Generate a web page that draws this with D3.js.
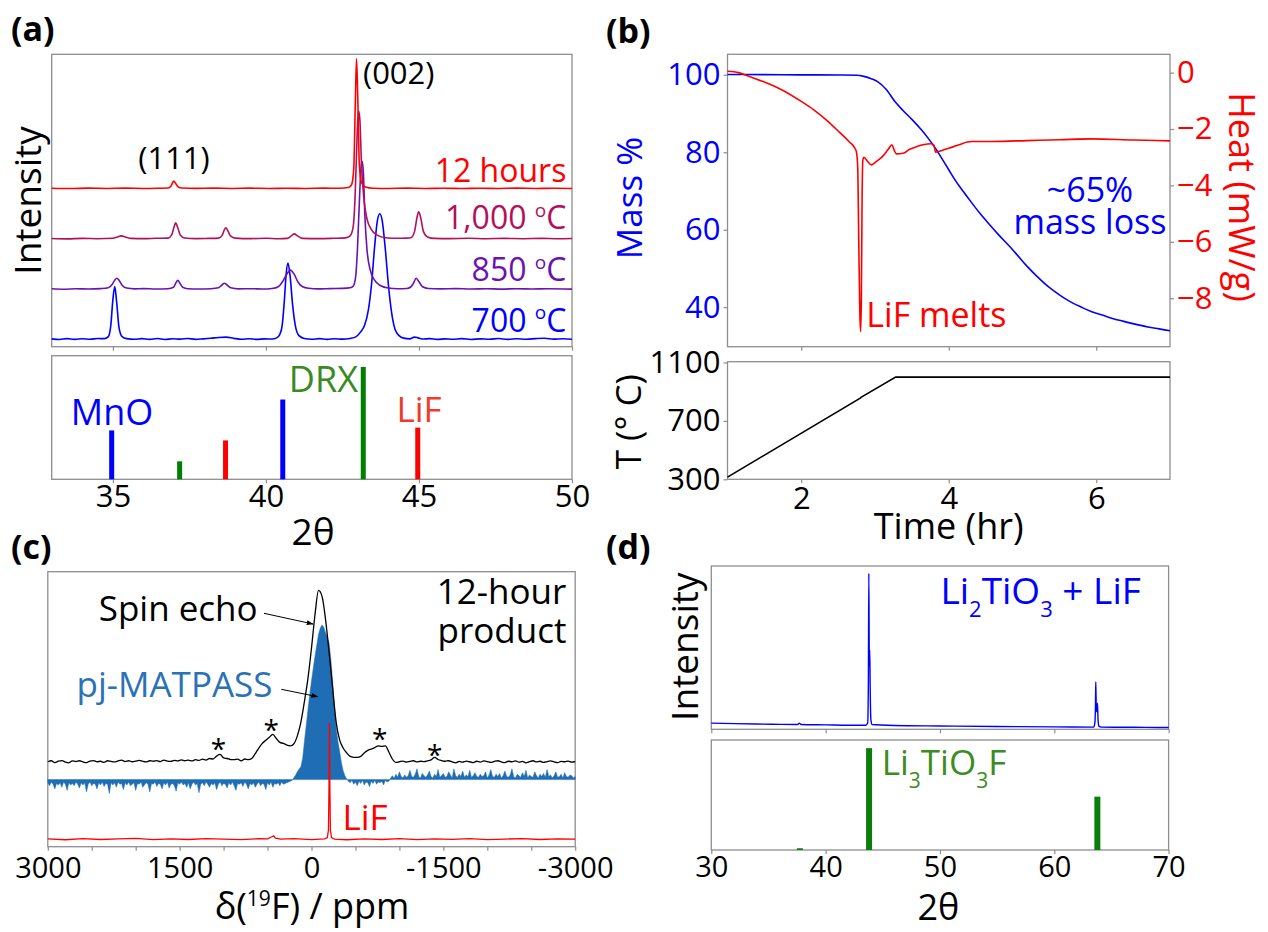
<!DOCTYPE html>
<html>
<head>
<meta charset="utf-8">
<script src="https://cdn.jsdelivr.net/npm/d3@7"></script>
<style>
  body { margin: 0; background: #fff; }
  svg { display: block; }
</style>
</head>
<body>
<svg id="fig" width="1268" height="932"></svg>
<script>
// ---------------- (a) XRD patterns: [2θ, intensity] ----------------
const xrd700 = [[33.0,0.8],[33.25,0.2],[33.5,1.0],[33.75,0.3],[34.0,0.9],[34.25,0.4],[34.5,1.1],[34.72,1.0],[34.85,3],[34.93,14],[35.0,40],[35.06,52.7],[35.12,38],[35.2,12],[35.3,3],[35.45,1.0],[35.7,0.4],[35.95,1.0],[36.2,0.3],[36.45,1.1],[36.7,0.2],[36.95,0.9],[37.2,0.5],[37.45,1.2],[37.7,0.3],[37.95,0.8],[38.2,1.4],[38.45,2.2],[38.7,2.5],[38.95,1.3],[39.2,0.4],[39.45,0.9],[39.7,0.3],[39.95,0.8],[40.2,0.6],[40.35,1.8],[40.45,5],[40.53,14],[40.6,38],[40.66,65],[40.72,76],[40.79,63],[40.87,35],[40.96,14],[41.08,4],[41.25,1.2],[41.5,0.4],[41.75,1.0],[42.0,0.3],[42.25,0.9],[42.5,0.5],[42.75,1.2],[42.95,3],[43.1,8],[43.22,14],[43.35,30],[43.45,55],[43.55,92],[43.64,118],[43.72,125],[43.8,118],[43.9,90],[44.0,55],[44.1,28],[44.22,10],[44.35,4],[44.5,1.5],[44.7,0.8],[44.85,2.5],[44.95,2.0],[45.1,0.6],[45.35,1.0],[45.6,0.3],[45.85,0.8],[46.1,0.4],[46.4,1.0],[46.7,0.2],[47.0,0.8],[47.3,0.4],[47.6,1.1],[47.9,0.3],[48.2,0.9],[48.5,0.4],[48.8,1.0],[49.1,1.4],[49.4,0.5],[49.7,0.9],[50.0,0.4]];
const xrd850 = [[33.0,0.5],[33.4,0.1],[33.8,0.6],[34.2,0.3],[34.6,0.7],[34.85,1.5],[34.98,5],[35.07,9.5],[35.13,11],[35.2,9],[35.3,4],[35.45,1.2],[35.7,0.4],[36.0,0.7],[36.4,0.3],[36.8,0.6],[36.98,2],[37.06,6.5],[37.12,9],[37.19,6],[37.28,2],[37.45,0.6],[37.8,0.3],[38.2,0.6],[38.45,1.5],[38.57,4.5],[38.64,6],[38.72,4.5],[38.85,1.5],[39.1,0.4],[39.5,0.6],[39.9,0.3],[40.2,0.8],[40.4,2.5],[40.55,8],[40.68,15],[40.8,19],[40.92,15],[41.05,7],[41.2,2.5],[41.4,1.0],[41.7,0.4],[42.1,0.7],[42.5,0.9],[42.75,1.5],[42.85,3],[42.93,12],[42.99,40],[43.05,85],[43.1,118],[43.14,127],[43.18,118],[43.23,75],[43.3,40],[43.4,20],[43.55,9],[43.75,3.5],[44.0,1.2],[44.3,0.6],[44.6,0.8],[44.72,2],[44.82,6],[44.91,11],[45.0,7.5],[45.12,2.5],[45.3,0.8],[45.7,0.4],[46.2,0.7],[46.7,0.3],[47.2,0.6],[47.7,0.2],[48.2,0.6],[48.7,0.3],[49.2,0.5],[50.0,0.2]];
const xrd1000 = [[33.0,0.4],[33.5,0.1],[34.0,0.5],[34.5,0.2],[35.0,0.6],[35.15,2],[35.28,3],[35.4,2],[35.6,0.5],[36.0,0.3],[36.4,0.6],[36.8,0.8],[36.92,4],[37.0,12],[37.05,16],[37.11,12],[37.2,4],[37.35,1],[37.7,0.3],[38.1,0.5],[38.45,0.8],[38.57,3.5],[38.64,9],[38.69,11],[38.75,8.5],[38.84,3],[39.0,0.8],[39.5,0.3],[40.0,0.6],[40.4,0.2],[40.7,0.5],[40.83,3],[40.93,5],[41.03,3],[41.2,0.5],[41.7,0.3],[42.2,0.6],[42.6,1.0],[42.75,3],[42.85,12],[42.91,40],[42.96,85],[43.0,118],[43.03,127],[43.07,118],[43.12,75],[43.2,40],[43.3,20],[43.45,9],[43.65,3.5],[43.9,1.2],[44.3,0.6],[44.6,0.8],[44.75,1.5],[44.86,8],[44.94,22],[44.99,27],[45.05,22],[45.14,8],[45.28,2],[45.5,0.5],[46.0,0.3],[46.6,0.6],[47.2,0.2],[47.8,0.5],[48.4,0.2],[49.0,0.5],[49.5,0.2],[50.0,0.4]];
const xrd12h = [[33.0,0.3],[33.6,0.0],[34.2,0.4],[34.8,0.1],[35.4,0.4],[36.0,0.1],[36.5,0.3],[36.8,0.5],[36.9,2.5],[36.95,6],[36.99,7.5],[37.04,5.5],[37.12,2],[37.25,0.5],[37.7,0.2],[38.3,0.4],[38.9,0.1],[39.5,0.4],[40.1,0.1],[40.7,0.3],[41.3,0.1],[41.9,0.4],[42.4,0.3],[42.7,1],[42.8,4],[42.87,20],[42.92,85],[42.96,129],[43.0,90],[43.05,25],[43.12,6],[43.25,1.5],[43.5,0.3],[44.0,0.1],[44.6,0.4],[45.2,0.1],[45.8,0.3],[46.4,0.0],[47.0,0.3],[47.6,0.1],[48.2,0.4],[48.8,0.1],[49.4,0.3],[50.0,0.1]];
const xrdSeries = [
  { name: "700 °C",   data: xrd700,  offset: 0,   color: "#0000ff" },
  { name: "850 °C",   data: xrd850,  offset: 50,  color: "#6a12b2" },
  { name: "1,000 °C", data: xrd1000, offset: 100, color: "#b3105c" },
  { name: "12 hours", data: xrd12h,  offset: 150, color: "#ff0000" }
];
// reference reflections: [2θ, relative intensity]
const refMnO = [[34.96, 43.5], [40.55, 71]];
const refDRX = [[37.18, 16], [43.18, 100]];
const refLiF = [[38.68, 34.6], [44.96, 46]];
const ticksA = [35, 40, 45, 50];

// ---------------- (b) TGA / DSC ----------------
const massCurve = [[1.0,100.1],[1.5,100.05],[2.0,100.0],[2.5,99.95],[2.75,99.9],[2.85,99.6],[2.95,99.0],[3.04,98.2],[3.15,96.3],[3.27,93.1],[3.38,90.8],[3.5,88.5],[3.62,86.0],[3.73,83.4],[3.82,81.0],[3.91,78.3],[4.0,75.5],[4.08,73.0],[4.2,69.8],[4.31,67.0],[4.42,64.3],[4.54,61.6],[4.68,58.6],[4.83,55.6],[4.95,53.0],[5.06,50.6],[5.2,47.9],[5.35,45.3],[5.5,43.2],[5.64,41.5],[5.8,40.0],[5.93,38.9],[6.08,38.0],[6.22,37.1],[6.36,36.4],[6.51,35.7],[6.7,34.9],[6.85,34.4],[7.0,33.9]];
const heatCurve = [[1.0,0.05],[1.15,0.0],[1.3,-0.14],[1.5,-0.33],[1.76,-0.64],[2.0,-1.02],[2.17,-1.32],[2.35,-1.7],[2.52,-2.12],[2.65,-2.45],[2.72,-2.65],[2.745,-2.78],[2.765,-3.3],[2.78,-6.0],[2.795,-8.6],[2.805,-9.18],[2.815,-8.0],[2.825,-4.5],[2.835,-3.1],[2.85,-3.0],[2.9,-3.15],[2.95,-3.27],[3.02,-3.15],[3.1,-2.98],[3.18,-2.72],[3.23,-2.56],[3.26,-2.75],[3.29,-2.88],[3.38,-2.86],[3.47,-2.72],[3.55,-2.64],[3.65,-2.56],[3.76,-2.52],[3.8,-2.58],[3.82,-2.82],[3.86,-2.8],[3.91,-2.76],[4.0,-2.68],[4.14,-2.56],[4.25,-2.46],[4.31,-2.44],[4.6,-2.44],[5.06,-2.41],[5.5,-2.38],[5.93,-2.35],[6.5,-2.39],[7.0,-2.42]];
const tempCurve = [[1.0,315],[2.8,856],[2.81,861],[3.28,1000],[7.0,1000]];
const ticksMass = [40, 60, 80, 100];
const ticksHeat = [-8, -6, -4, -2, 0];
const ticksTemp = [300, 700, 1100];
const ticksTime = [2, 4, 6];

// ---------------- (c) 19F NMR ----------------
// spin echo sampled every 40 ppm, pj-MATPASS every 20 ppm, both from +3000 ppm downward
const PPM_START = 3000, ECHO_STEP = -40, MP_STEP = -20;
const spinEcho = [0.3,0.9,-0.2,0.6,1.0,0.1,-0.3,0.8,0.4,0.9, 0.2,-0.2,0.7,1.0,0.3,0.6,-0.1,0.9,0.5,0.2, 0.8,1.2,0.4,0.9,0.3,0.7,1.1,0.5,0.2,0.9, 0.6,1.0,0.4,1.3,0.7,0.5,1.1,0.8,1.4,0.9, 1.2,0.8,1.5,1.1,1.8,1.3,2.2,1.9,3.6,4.6, 2.5,2.2,1.6,1.5,1.8,0.8,1.9,1.5,2.2,5.0, 8.3,11.0,12.8,14.5,16.2,13.8,11.6,11.0,10.0,9.6, 10.8,15.5,23.5,35.5,49.0,66.5,86.0,100,96.5,83.0, 64.0,43.3,23.5,13.0,8.3,5.5,3.4,2.9,2.8,3.4, 5.4,6.9,7.7,8.5,9.6,9.2,9.5,6.0,1.9,-0.1, 0.3,0.7,0.1,0.5,0.9,0.2,0.6,0.4,0.8,1.4, 2.8,1.6,1.0,0.6,0.9,0.2,-0.3,0.5,0.1,0.7, 0.3,-0.2,0.6,0.1,0.8,0.4,-0.1,0.5,0.9,0.2, -0.2,0.6,0.3,0.8,0.1,0.5,-0.3,0.4,0.9,0.2, 0.6,-0.1,0.4,0.8,0.2,-0.2,0.5,0.3,0.7,0.1,0.4];
const matpass = [
  -2,-4,-1.5,-3,-6,-2.5,-3.5,-2,-5,-1.5,-3,-7,-2,-3.5,-2.5,-4,-1.5,-3,-5.5,-2,
  -3.5,-2,-8,-3,-1.5,-4,-2.5,-3,-6,-2,-3.5,-1.5,-4.5,-2.5,-3,-9,-2,-3.5,-2,-5,
  -1.5,-3,-2.5,-6.5,-2,-3.5,-1.5,-4,-3,-2,-7,-2.5,-3,-1.5,-5,-3.5,-2,-3,-8,-2.5,
  -3,-1.5,-4.5,-2.5,-3,-6,-2,-3.5,-1.5,-5.5,-3,-2.5,-4,-7.5,-2,-3,-1.5,-3.5,-2.5,-5,
  -2,-6,-3,-1.5,-3.5,-2.5,-8.5,-3,-2,-4,-1.5,-3,-5,-2.5,-3.5,-2,-6.5,-3,-1.5,-4,
  -2.5,-3,-5.5,-2,-3.5,-1.5,-4,-7,-2.5,-3,-2,-4.5,-1.5,-3,-6,-2.5,-3.5,-2,-5,-3,
  -1.5,-4,-2.5,-3,-6.5,-2,-3.5,-1.5,-5,-2.5,-3,-2,-4,-1.5,-3,-2.5,-2,-1.5,-1,-0.5,
  1.3,3,5.2,6.8,8.4,14,25,35,45.4,55,63.9,72,79.8,87,94,98,100,98.5,95,92,88.2,78,63.9,48,33.7,25,18.2,11,5.8,2.5,0.6,
  -1,-2,-0.5,-3,-1.5,-4,-1,-2.5,-0.5,-3.5,-1.5,-2,-4.5,-1,-2.5,-0.5,-3,-1.5,-2,-1,-3.5,-0.5,-1.5,-1,
  1,2.5,0.8,3.5,1.5,5,2,1,3,1.5, 2.5,6,2,1.5,3.5,7,2,1,4,2.5, 1.5,3,5.5,2,1,3.5,2,6.5,1.5,2.5,
  4,1.5,2,5,3,1,7,2.5,1.5,3.5, 2,5.5,1.5,3,2,6,1.5,2.5,4.5,2, 1.5,3.5,2,2.5,5,1,3,6.5,2,1.5,
  3.5,2,4,1,2.5,5.5,2,1.5,3,7, 2,1,3.5,2.5,1.5,4.5,2,6,1,3, 2,1.5,5,2.5,1,3.5,2,4,1.5,6.5,
  2,3,1,2.5,5,1.5,2,3.5,1,4.5, 2,1.5,3,2.5,1,2];
const lifNMR = [[3000,0.3],[2800,-0.4],[2600,0.5],[2400,-0.2],[2200,0.4],[2000,0.8],[1800,-0.3],[1600,0.4],[1400,-0.2],[1200,0.6],[1000,0.2],[800,-0.3],[600,0.5],[500,0.4],[450,2.2],[430,3.0],[410,1.0],[350,0.2],[200,0.5],[0,-0.3],[-150,0.4],[-180,1.5],[-193,8],[-199,45],[-204,100],[-209,45],[-215,8],[-228,1.5],[-260,0.2],[-400,-0.4],[-600,0.3],[-800,-0.2],[-1000,0.5],[-1200,-0.3],[-1400,0.4],[-1600,-0.1],[-1800,0.6],[-2000,-0.3],[-2200,0.2],[-2400,0.5],[-2600,-0.2],[-2800,0.4],[-3000,0.1]];
const sidebands = [1058, 457, -775, -1401];
const ticksPPM = [3000, 2500, 2000, 1500, 1000, 500, 0, -500, -1000, -1500, -2000, -2500, -3000];

// ---------------- (d) Li2TiO3 + LiF ----------------
const xrdLTO = [[30,3.9],[32,3.6],[34,3.3],[36,3.1],[37.55,3.0],[37.7,3.9],[37.85,3.0],[40,2.8],[42,2.6],[43.5,2.6],[43.68,4],[43.74,30],[43.78,98.4],[43.82,40],[43.86,50],[43.9,25],[43.96,6],[44.05,3.0],[46,2.4],[50,2.1],[55,1.8],[60,1.5],[63.45,1.4],[63.55,4],[63.6,14],[63.63,30],[63.68,12],[63.74,11],[63.78,16.4],[63.83,6],[63.9,2],[64.1,1.4],[66,1.3],[68,1.2],[70,1.1]];
const refLi3TiO3F = [[37.75, 1.7], [43.8, 100], [63.77, 52.4]];
const ticksD = [30, 40, 50, 60, 70];

// ---------------- drawing ----------------
const FONT = "'Open Sans', 'Noto Sans', sans-serif";
const FRAME = "#8e8e8e";
const svg = d3.select("#fig");
svg.append("rect").attr("width", 1268).attr("height", 932).attr("fill", "#fff");

function frame(x0, y0, x1, y1) {
  svg.append("rect").attr("x", x0).attr("y", y0).attr("width", x1 - x0).attr("height", y1 - y0)
    .attr("fill", "none").attr("stroke", FRAME).attr("stroke-width", 1.3);
}
function styleAxis(g, size, color) {
  g.select(".domain").remove();
  g.selectAll(".tick line").attr("stroke", FRAME).attr("stroke-width", 1.2);
  g.selectAll(".tick text").attr("fill", color).style("font-family", FONT).style("font-size", size + "px");
}
function text(x, y, str, o = {}) {
  const t = svg.append("text").attr("x", x).attr("y", y)
    .style("font-family", FONT).style("font-size", (o.size || 32) + "px")
    .attr("fill", o.color || "#000").attr("text-anchor", o.anchor || "start")
    .style("font-weight", o.weight || "normal");
  if (o.rotate) t.attr("transform", `rotate(${o.rotate},${x},${y})`);
  if (str !== null) t.text(str);
  return t;
}
// label with a raised small "o" degree mark, e.g. "850 °C"
function degreeLabel(x, y, value, color) {
  const t = text(x, y, null, { size: 32, color, anchor: "end" });
  t.append("tspan").text(value + " ");
  t.append("tspan").text("o").style("font-size", "19px").attr("dy", -12.4);
  t.append("tspan").text("C").attr("dy", 12.4);
}
function chemLabel(x, y, parts, size, subSize, color) {
  const t = text(x, y, null, { size, color });
  let shifted = false;
  parts.forEach(p => {
    const sp = t.append("tspan").text(p.s);
    if (p.sub && !shifted) { sp.style("font-size", subSize + "px").attr("dy", 13); shifted = true; }
    else if (!p.sub && shifted) { sp.attr("dy", -13); shifted = false; }
    else if (p.sub) sp.style("font-size", subSize + "px");
  });
}
const intFmt = d3.format("d");

// ===== panel (a) =====
const xA = d3.scaleLinear([33, 50], [51.7, 572]);
const yA = d3.scaleLinear([-7, 283.3], [346.7, 54.3]);
const yAref = d3.scaleLinear([0, 110], [479.3, 355.7]);

frame(51.7, 54.3, 572, 346.7);
styleAxis(svg.append("g").attr("transform", "translate(0,346.7)")
  .call(d3.axisBottom(xA).tickValues(ticksA).tickSize(4).tickFormat("")), 31, "#000");

xrdSeries.forEach(s => {
  svg.append("path").datum(s.data)
    .attr("fill", "none").attr("stroke", s.color).attr("stroke-width", 1.6).attr("stroke-linejoin", "round")
    .attr("d", d3.line().x(d => xA(d[0])).y(d => yA(s.offset + d[1])).curve(d3.curveMonotoneX));
});
text(566.4, 181.7, "12 hours", { size: 32, color: "#ff0000", anchor: "end" });
degreeLabel(566.4, 229, "1,000", "#b3105c");
degreeLabel(566.4, 281, "850", "#6a12b2");
degreeLabel(566.4, 331.7, "700", "#0000ff");
text(174, 168.5, "(111)", { size: 31, anchor: "middle" });
text(363, 84, "(002)", { size: 31 });
text(40.5, 200.5, "Intensity", { size: 37, anchor: "middle", rotate: -90 });

frame(51.7, 355.7, 572, 479.3);
styleAxis(svg.append("g").attr("transform", "translate(0,479.3)")
  .call(d3.axisBottom(xA).tickValues(ticksA).tickSize(4).tickPadding(2).tickFormat(intFmt)), 31, "#000");
[[refMnO, "#0000ff"], [refDRX, "#008000"], [refLiF, "#ff0000"]].forEach(([ref, c]) => {
  svg.selectAll(null).data(ref).enter().append("rect")
    .attr("x", d => xA(d[0]) - 2.5).attr("width", 5)
    .attr("y", d => yAref(d[1])).attr("height", d => yAref(0) - yAref(d[1]))
    .attr("fill", c);
});
text(112, 425, "MnO", { size: 36, color: "#0000ff", anchor: "middle" });
text(358, 391.7, "DRX", { size: 36, color: "#3a8a22", anchor: "end" });
text(419, 421.7, "LiF", { size: 35, color: "#ee3b2b", anchor: "middle" });
text(313, 545, "2θ", { size: 37, anchor: "middle" });
text(11, 41, "(a)", { size: 34, weight: "bold" });

// ===== panel (b) =====
const xB = d3.scaleLinear([1, 7], [727.5, 1170]);
const yMass = d3.scaleLinear([29.8, 105.3], [346.7, 54.3]);
const yHeat = d3.scaleLinear([-9.72, 0.65], [346.7, 54.3]);
const yT = d3.scaleLinear([300, 1100], [479.3, 362.5]);

frame(727.5, 54.3, 1170, 346.7);
styleAxis(svg.append("g").attr("transform", "translate(0,346.7)")
  .call(d3.axisBottom(xB).tickValues(ticksTime).tickSize(4).tickFormat("")), 31, "#000");
styleAxis(svg.append("g").attr("transform", "translate(727.5,0)")
  .call(d3.axisLeft(yMass).tickValues(ticksMass).tickSize(4).tickPadding(3).tickFormat(intFmt)), 31, "#0000ff");
styleAxis(svg.append("g").attr("transform", "translate(1170,0)")
  .call(d3.axisRight(yHeat).tickValues(ticksHeat).tickSize(4).tickPadding(3)
    .tickFormat(d => d === 0 ? "0" : "\u2212" + Math.abs(d))), 31, "#ff0000");

svg.append("path").datum(massCurve).attr("fill", "none").attr("stroke", "#0000ff").attr("stroke-width", 1.6)
  .attr("d", d3.line().x(d => xB(d[0])).y(d => yMass(d[1])).curve(d3.curveMonotoneX));
svg.append("path").datum(heatCurve).attr("fill", "none").attr("stroke", "#ff0000").attr("stroke-width", 1.6)
  .attr("stroke-linejoin", "round")
  .attr("d", d3.line().x(d => xB(d[0])).y(d => yHeat(d[1])).curve(d3.curveMonotoneX));

text(1090, 202, "~65%", { size: 34, color: "#0000ff", anchor: "middle" });
text(1090, 234, "mass loss", { size: 34, color: "#0000ff", anchor: "middle" });
text(866.3, 326.7, "LiF melts", { size: 34, color: "#ff0000" });
text(641.5, 198, "Mass %", { size: 35, color: "#0000ff", anchor: "middle", rotate: -90 });
text(1229, 197, "Heat (mW/g)", { size: 36, color: "#ff0000", anchor: "middle", rotate: 90 });

frame(727.5, 361.7, 1170, 479.3);
styleAxis(svg.append("g").attr("transform", "translate(0,479.3)")
  .call(d3.axisBottom(xB).tickValues(ticksTime).tickSize(4).tickPadding(4).tickFormat(intFmt)), 31, "#000");
styleAxis(svg.append("g").attr("transform", "translate(727.5,0)")
  .call(d3.axisLeft(yT).tickValues(ticksTemp).tickSize(4).tickPadding(3).tickFormat(intFmt)), 31, "#000");
svg.append("path").datum(tempCurve).attr("fill", "none").attr("stroke", "#000").attr("stroke-width", 1.6)
  .attr("d", d3.line().x(d => xB(d[0])).y(d => yT(d[1])));
text(641.5, 421.7, "T (° C)", { size: 35, anchor: "middle", rotate: -90 });
text(948.7, 539, "Time (hr)", { size: 36, anchor: "middle" });
text(606, 43, "(b)", { size: 34, weight: "bold" });

// ===== panel (c) =====
const xC = d3.scaleLinear([3000, -3000], [47.8, 575.2]);
const yC = d3.scaleLinear([0, 100], [846.7, 571.7]);
const echoBase = 30.7, echoScale = 0.625;
const mpBase = 24.4, mpScale = 0.5625;
const lifBase = 2.7, lifScale = 0.422;

frame(47.8, 571.7, 575.2, 846.7);
styleAxis(svg.append("g").attr("transform", "translate(0,846.7)")
  .call(d3.axisBottom(xC).tickValues(ticksPPM).tickSize(4).tickPadding(7)
    .tickFormat(d => d % 1500 === 0 ? (d < 0 ? "-" + Math.abs(d) : String(d)) : "")), 29, "#000");

svg.append("path").datum(matpass)
  .attr("fill", "#1f6db5").attr("stroke", "#1f6db5").attr("stroke-width", 0.5)
  .attr("d", d3.area().x((d, i) => xC(PPM_START + MP_STEP * i)).y0(yC(mpBase)).y1(d => yC(mpBase + mpScale * d)));
svg.append("path").datum(spinEcho)
  .attr("fill", "none").attr("stroke", "#000").attr("stroke-width", 1.3).attr("stroke-linejoin", "round")
  .attr("d", d3.line().x((d, i) => xC(PPM_START + ECHO_STEP * i)).y(d => yC(echoBase + echoScale * d)).curve(d3.curveMonotoneX));
svg.append("path").datum(lifNMR)
  .attr("fill", "none").attr("stroke", "#ff0000").attr("stroke-width", 1.3)
  .attr("d", d3.line().x(d => xC(d[0])).y(d => yC(lifBase + lifScale * d[1])));

const sbY = [744.3, 725, 734.3, 750];
sidebands.forEach((p, i) => text(xC(p), sbY[i] + 15, "*", { size: 28, anchor: "middle" }));

svg.append("defs").append("marker").attr("id", "arrowhead")
  .attr("viewBox", "0 0 10 10").attr("refX", 9).attr("refY", 5)
  .attr("markerWidth", 7).attr("markerHeight", 7).attr("orient", "auto")
  .append("path").attr("d", "M0,1.5 L10,5 L0,8.5 Z").attr("fill", "#000");
[[264, 613.3, 313, 624], [281.3, 689.3, 317.6, 696.7]].forEach(a => {
  svg.append("line").attr("x1", a[0]).attr("y1", a[1]).attr("x2", a[2]).attr("y2", a[3])
    .attr("stroke", "#000").attr("stroke-width", 1).attr("marker-end", "url(#arrowhead)");
});
text(98.7, 620.7, "Spin echo", { size: 35 });
text(76.5, 696.7, "pj-MATPASS", { size: 35, color: "#2a72b6" });
text(566.4, 604, "12-hour", { size: 35, anchor: "end" });
text(566.4, 643.3, "product", { size: 35, anchor: "end" });
text(342.5, 830, "LiF", { size: 35, color: "#ff0000" });
const xl = text(312, 919, null, { size: 36, anchor: "middle" });
xl.append("tspan").text("δ(");
xl.append("tspan").text("19").style("font-size", "21px").attr("dy", -13);
xl.append("tspan").text("F) / ppm").attr("dy", 13);
text(11, 559, "(c)", { size: 34, weight: "bold" });

// ===== panel (d) =====
const xD = d3.scaleLinear([30, 70], [711.3, 1168.6]);
const yD = d3.scaleLinear([0, 103], [729.3, 566]);
const yDref = d3.scaleLinear([0, 108], [850, 740]);

frame(711.3, 566, 1168.6, 729.3);
styleAxis(svg.append("g").attr("transform", "translate(0,729.3)")
  .call(d3.axisBottom(xD).tickValues(ticksD).tickSize(4).tickFormat("")), 29, "#000");
svg.append("path").datum(xrdLTO).attr("fill", "none").attr("stroke", "#0000ff").attr("stroke-width", 1.4)
  .attr("d", d3.line().x(d => xD(d[0])).y(d => yD(d[1])).curve(d3.curveMonotoneX));
chemLabel(940.4, 604, [{ s: "Li" }, { s: "2", sub: true }, { s: "TiO" }, { s: "3", sub: true }, { s: " + LiF" }], 37, 22, "#0000ff");
text(698, 646.7, "Intensity", { size: 37, anchor: "middle", rotate: -90 });

frame(711.3, 740, 1168.6, 850);
styleAxis(svg.append("g").attr("transform", "translate(0,850)")
  .call(d3.axisBottom(xD).tickValues(ticksD).tickSize(4).tickPadding(2.5).tickFormat(intFmt)), 29, "#000");
svg.selectAll(null).data(refLi3TiO3F).enter().append("rect")
  .attr("x", d => xD(d[0]) - 3).attr("width", 6)
  .attr("y", d => yDref(d[1])).attr("height", d => yDref(0) - yDref(d[1]))
  .attr("fill", "#0a7d0a");
chemLabel(881.7, 775, [{ s: "Li" }, { s: "3", sub: true }, { s: "TiO" }, { s: "3", sub: true }, { s: "F" }], 35, 21, "#3b8c22");
text(938.4, 920, "2θ", { size: 36, anchor: "middle" });
text(606, 559, "(d)", { size: 34, weight: "bold" });
</script>
</body>
</html>
